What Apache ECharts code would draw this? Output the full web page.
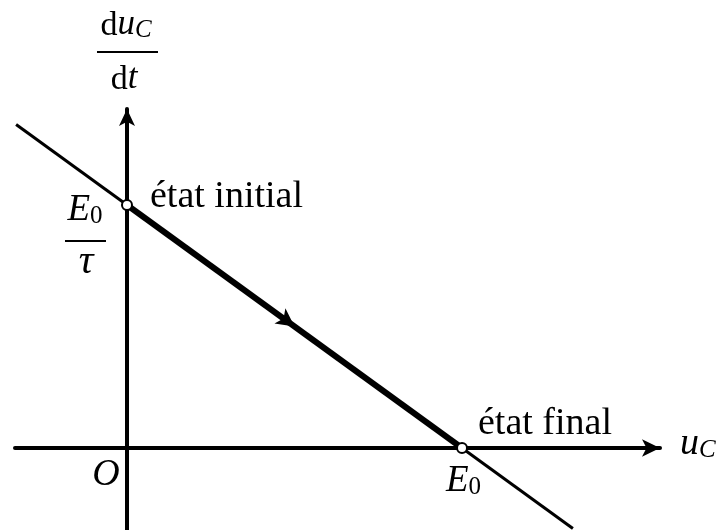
<!DOCTYPE html>
<html>
<head>
<meta charset="utf-8">
<script src="https://cdn.jsdelivr.net/npm/echarts@6/dist/echarts.min.js"></script>
<style>
html,body{margin:0;padding:0;background:#fff;}
#c{width:717px;height:530px;}
</style>
</head>
<body>
<div id="c"></div>
<script>
// ---- data (normalised units: E0 = 1 on the u_C axis, E0/tau = 1 on the du_C/dt axis) ----
const xRange = [-0.3343, 1.591];             // u_C axis extent
const yRange = [-0.3374, 1.395];             // du_C/dt axis extent
const fullLine = [[-0.331, 1.331], [1.331, -0.331]];   // du_C/dt = (E0 - u_C)/tau
const chargePath = [[0, 1], [1, 0]];                     // trajectory état initial -> état final
const statePoints = [[0, 1], [1, 0]];                    // initial and final states
const directionPoint = [[0.5, 0.5]];                     // arrow showing direction of evolution
const stateLabels = ['état initial', 'état final'];

const SERIF = '"Liberation Serif", "DejaVu Serif", serif';

const chart = echarts.init(document.getElementById('c'), null, {renderer: 'canvas'});

function axisCommon(range, arrowSize) {
  return {
    type: 'value',
    min: range[0],
    max: range[1],
    axisLine: {
      show: true, onZero: true,
      symbol: ['none', 'arrow'],
      symbolSize: arrowSize,
      lineStyle: {color: '#000', width: 4}
    },
    axisTick: {show: false},
    axisLabel: {show: false},
    splitLine: {show: false},
    splitArea: {show: false}
  };
}

chart.setOption({
  animation: false,
  backgroundColor: '#fff',
  grid: {left: 15, right: 57, top: 109, bottom: 0, containLabel: false, outerBoundsMode: 'none'},
  xAxis: axisCommon(xRange, [13, 18]),
  yAxis: axisCommon(yRange, [12, 17]),
  series: [
    {id: 'full', type: 'line', data: fullLine, symbol: 'none', silent: true, z: 2,
     lineStyle: {color: '#000', width: 3}},
    {id: 'path', type: 'line', data: chargePath, symbol: 'none', silent: true, z: 3,
     lineStyle: {color: '#000', width: 6}},
    {id: 'dir', type: 'scatter', data: directionPoint, symbol: 'arrow', symbolSize: [14, 18],
     symbolRotate: -126, silent: true, z: 4, itemStyle: {color: '#000', opacity: 1}},
    {id: 'states', type: 'scatter', data: statePoints, symbol: 'circle', symbolSize: 10, silent: true, z: 5,
     itemStyle: {color: '#fff', borderColor: '#000', borderWidth: 2, opacity: 1}}
  ]
});

const px = p => chart.convertToPixel({gridIndex: 0}, p);

// text with baseline control; pieces: {t, size, it, drop}
function mathText(pieces, x, baseline, align) {
  const F = Math.max.apply(null, pieces.map(p => p.size));
  const rich = {};
  let text = '';
  pieces.forEach((p, i) => {
    const key = 'p' + i;
    const drop = p.drop || 0;
    const lh = 2 * (0.3375 * p.size + 0.1625 * F - drop);
    rich[key] = {
      fontFamily: SERIF, fontSize: p.size, fontStyle: p.it ? 'italic' : 'normal',
      lineHeight: lh, verticalAlign: 'bottom', fill: '#000'
    };
    text += '{' + key + '|' + p.t + '}';
  });
  return {
    type: 'text', x: x, y: baseline + 0.1625 * F, silent: true, z: 100,
    style: {text: text, rich: rich, align: align || 'left', verticalAlign: 'bottom', fill: '#000'}
  };
}
function bar(x1, x2, y) {
  return {type: 'line', silent: true, z: 100, shape: {x1: x1, y1: y, x2: x2, y2: y},
          style: {stroke: '#000', lineWidth: 2}};
}

const O0 = px([0, 0]);
const P1 = px(statePoints[0]);
const P2 = px(statePoints[1]);
const yTop = px([0, yRange[1]])[1];
const xEnd = px([xRange[1], 0])[0];
const ang = Math.atan2(P2[1] - P1[1], P2[0] - P1[0]) * 180 / Math.PI;

const graphics = [
  // du_C / dt
  mathText([{t: 'd', size: 34}, {t: 'u', size: 35, it: true}, {t: 'C', size: 25, it: true, drop: 6}],
           O0[0] - 1, yTop - 72, 'center'),
  bar(O0[0] - 30, O0[0] + 31, yTop - 57),
  mathText([{t: 'd', size: 34}, {t: 't', size: 35, it: true}], O0[0] - 3, yTop - 18, 'center'),
  // E0 / tau
  mathText([{t: 'E', size: 37, it: true}, {t: '0', size: 25, drop: 3}], P1[0] - 42, P1[1] + 18, 'center'),
  bar(P1[0] - 62, P1[0] - 21, P1[1] + 36),
  mathText([{t: 'τ', size: 41, it: true}], P1[0] - 41, P1[1] + 71, 'center'),
  // state labels
  mathText([{t: stateLabels[0], size: 38}], P1[0] + 23, P1[1] + 5, 'left'),
  mathText([{t: stateLabels[1], size: 38}], P2[0] + 16, P2[1] - 11, 'left'),
  // E0 on u axis
  mathText([{t: 'E', size: 37, it: true}, {t: '0', size: 25, drop: 5}], P2[0] - 16, P2[1] + 46, 'left'),
  // origin
  mathText([{t: 'O', size: 38, it: true}], O0[0] - 21, O0[1] + 40, 'center'),
  // u_C axis name
  mathText([{t: 'u', size: 38, it: true}, {t: 'C', size: 25, it: true, drop: 4}], xEnd + 20, O0[1] + 9, 'left')
];

chart.setOption({
  series: [{id: 'dir', symbolRotate: -(90 + ang)}],
  graphic: graphics
});
</script>
</body>
</html>
